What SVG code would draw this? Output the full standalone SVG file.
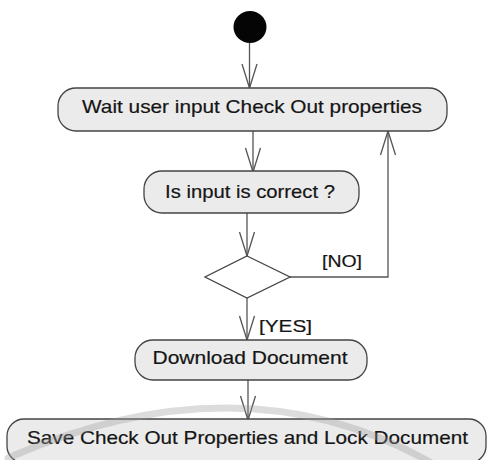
<svg xmlns="http://www.w3.org/2000/svg" width="488" height="460" viewBox="0 0 488 460">
<defs>
<style>
.act{fill:#ebebeb;stroke:#444;stroke-width:1.3}
.lbl{font-family:"Liberation Sans",Arial,sans-serif;font-size:19px;fill:#151515;stroke:#151515;stroke-width:0.2;text-anchor:middle}
.g{font-family:"Liberation Sans",Arial,sans-serif;font-size:17px;fill:#151515;stroke:#151515;stroke-width:0.2}
.c{fill:none;stroke:#555;stroke-width:1.3}
.wm{fill:none;stroke:#9a9a9a;stroke-opacity:0.35;stroke-width:7;stroke-linecap:round}
</style>
</defs>
<rect width="488" height="460" fill="#fff"/>
<g id="connectors">
<line class="c" x1="249.5" y1="43" x2="249.5" y2="88"/>
<path d="M242,64 L249.5,88 L257,64" class="c"/>
<line class="c" x1="253" y1="131" x2="253" y2="172"/>
<path d="M245.5,148 L253,172 L260.5,148" class="c"/>
<line class="c" x1="247" y1="213" x2="247" y2="256"/>
<path d="M239.5,232 L247,256 L254.5,232" class="c"/>
<polyline class="c" points="290,277 388,277 388,131"/>
<path d="M380.5,155 L388,131 L395.5,155" class="c"/>
<line class="c" x1="247" y1="298" x2="247" y2="340"/>
<path d="M239.5,316 L247,340 L254.5,316" class="c"/>
<line class="c" x1="248" y1="380" x2="248" y2="420"/>
<path d="M240.5,396 L248,420 L255.5,396" class="c"/>
<text class="g" x="322" y="267" textLength="40" lengthAdjust="spacingAndGlyphs">[NO]</text>
<text class="g" x="259" y="332" textLength="53" lengthAdjust="spacingAndGlyphs">[YES]</text>
</g>
<g id="start">
<ellipse cx="250" cy="27" rx="16.5" ry="16" fill="#050505"/>
</g>
<g id="wait">
<rect class="act" x="58" y="88" width="389" height="43" rx="18"/>
<text class="lbl" x="252" y="113" textLength="340" lengthAdjust="spacingAndGlyphs">Wait user input Check Out properties</text>
</g>
<g id="check">
<rect class="act" x="144" y="171" width="215" height="42" rx="18"/>
<text class="lbl" x="250" y="198" textLength="170" lengthAdjust="spacingAndGlyphs">Is input is correct ?</text>
</g>
<g id="decision">
<polygon points="247,256 290,277 247,298 205,277" fill="#fff" stroke="#444" stroke-width="1.3"/>
</g>
<g id="download">
<rect class="act" x="135" y="340" width="232" height="40" rx="18"/>
<text class="lbl" x="250" y="364" textLength="195" lengthAdjust="spacingAndGlyphs">Download Document</text>
</g>
<g id="save">
<rect class="act" x="7" y="419" width="479" height="44" rx="17"/>
<text class="lbl" x="247.5" y="444" textLength="441" lengthAdjust="spacingAndGlyphs">Save Check Out Properties and Lock Document</text>
</g>
<path class="wm" d="M8,458 Q240,356 430,462"/>
</svg>
